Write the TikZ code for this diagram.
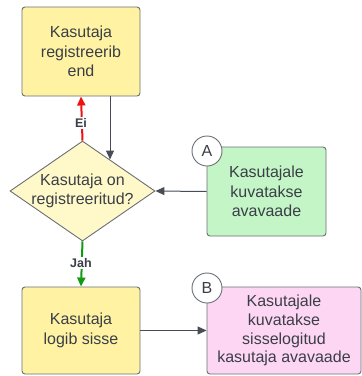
\documentclass[tikz,border=0pt]{standalone}
\usepackage{fontspec}
\setmainfont{Liberation Sans}
\usetikzlibrary{shapes.geometric,arrows.meta}
\definecolor{txt}{HTML}{3A3F47}
\definecolor{bord}{HTML}{6B6E73}
\definecolor{yel}{HTML}{FFF3A3}
\definecolor{dia}{HTML}{FFF9C9}
\definecolor{grn}{HTML}{C4F5C6}
\definecolor{pnk}{HTML}{FDD6F4}
\definecolor{lnk}{HTML}{474C55}
\definecolor{redl}{HTML}{EE1111}
\definecolor{grnl}{HTML}{129A12}
\begin{document}
\begin{tikzpicture}[x=1pt,y=-1pt,
  box/.style={draw=bord, line width=0.9pt, rounded corners=3pt, align=center, text=txt,
    font=\fontsize{16}{19.5}\selectfont, inner sep=0pt},
  txtonly/.style={align=center, text=txt, font=\fontsize{16}{19.5}\selectfont, inner sep=0pt},
  badge/.style={circle, draw=bord, fill=white, line width=0.9pt, minimum size=30, inner sep=0pt,
    text=txt, font=\fontsize{16}{16}\selectfont},
  conn/.style={draw=lnk, line width=1pt, -{Triangle[length=9pt,width=8pt]}},
  redarr/.style={draw=redl, line width=2pt, -{Triangle[length=9pt,width=8pt]}, redl},
  grnarr/.style={draw=grnl, line width=2pt, -{Triangle[length=9pt,width=8pt]}, grnl},
  lbl/.style={fill=white, text=txt, font=\bfseries\fontsize{12.5}{13}\selectfont, inner sep=1.5pt}
]
\useasboundingbox (0,0) rectangle (362,376);

\node[box, fill=yel, minimum width=118, minimum height=89] (top) at (81,51.5) {Kasutaja\\registreerib\\end};
\node[diamond, draw=bord, fill=dia, line width=0.9pt, minimum width=145, minimum height=100, inner sep=0pt] (d) at (82.5,191) {};
\node[txtonly] (dt) at (d) {Kasutaja on\\registreeritud?};
\node[box, fill=grn, minimum width=119, minimum height=89] (g) at (266.5,191.5) {Kasutajale\\kuvatakse\\avavaade};
\node[box, fill=yel, minimum width=118, minimum height=87] (b) at (81,330.5) {Kasutaja\\logib sisse};
\node[box, fill=pnk, minimum width=154, minimum height=87, font=\fontsize{16}{18.8}\selectfont] (p) at (284,330.5) {Kasutajale\\kuvatakse\\sisselogitud\\kasutaja avavaade};

\node[badge] (ba) at (207,151) {A};
\node[badge] (bb) at (207,288) {B};

\coordinate (t1) at (110,96);
\coordinate (t2) at (110,159.5);
\draw[conn] (t1) -- (t2);

\draw[redarr] (d.north) -- (top.south);
\node[lbl] (ei) at (81,123) {Ei};

\draw[grnarr] (d.south) -- (b.north);
\node[lbl] (jah) at (81,263) {Jah};

\draw[conn] (g.west) -- (d.east);
\draw[conn] (b.east) -- (p.west);
\end{tikzpicture}
\end{document}
